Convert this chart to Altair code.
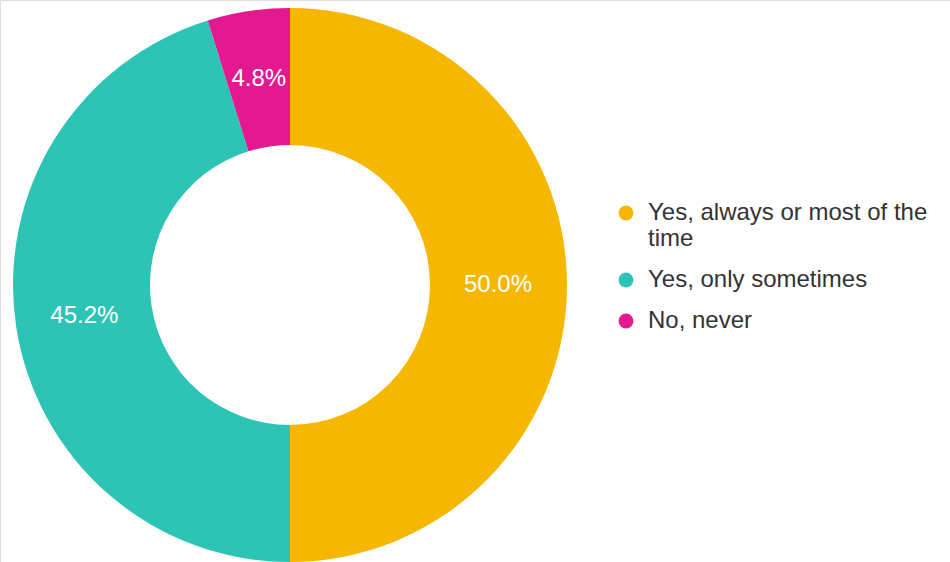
import altair as alt
import pandas as pd

categories = ["Yes, always or most of the time", "Yes, only sometimes", "No, never"]
values = [50.0, 45.2, 4.8]
colors = ["#F5B700", "#2DC4B6", "#E3198F"]

df = pd.DataFrame({"answer": categories, "value": values, "order": [0, 1, 2]})

base = alt.Chart(df).encode(
    theta=alt.Theta("value:Q", stack=True),
    order=alt.Order("order:Q"),
    x=alt.value(290),
    y=alt.value(285),
)

color = alt.Color(
    "answer:N",
    scale=alt.Scale(domain=categories, range=colors),
    sort=categories,
    legend=alt.Legend(
        title=None,
        orient="none",
        legendX=614,
        legendY=201,
        symbolType="circle",
        symbolSize=220,
        symbolStrokeWidth=0,
        labelFont="Liberation Sans",
        labelFontSize=24,
        labelColor="#333333",
        labelLimit=400,
        rowPadding=17,
        labelOffset=10,
        labelBaseline="middle",
        labelExpr="datum.label == 'Yes, always or most of the time' ? ['Yes, always or most of the', 'time'] : datum.label",
    ),
)

arcs = base.mark_arc(outerRadius=277, innerRadius=140, stroke=None).encode(color=color)

labels = base.transform_calculate(
    label="format(datum.value, '.1f') + '%'"
).mark_text(
    radius=208, font="Liberation Sans", fontSize=24, color="white"
).encode(text="label:N")

chart = (arcs + labels).properties(
    width=950, height=562, autosize=alt.AutoSizeParams(type="none"), padding=0
).configure_view(stroke=None).configure(background="white")

chart.save("out.html", embed_options={"renderer": "svg", "actions": False})
